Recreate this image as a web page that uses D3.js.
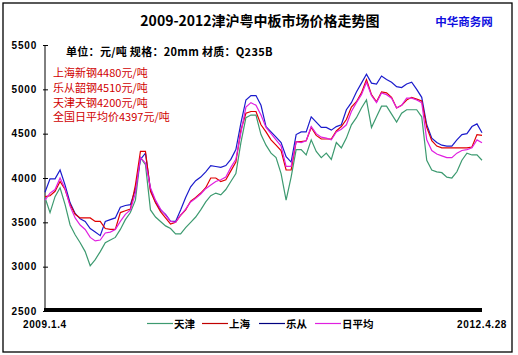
<!DOCTYPE html>
<html><head><meta charset="utf-8">
<script src="https://cdn.jsdelivr.net/npm/d3@7"></script>
<style>body{margin:0;background:#fff}svg{display:block}</style>
</head><body>
<svg id="c" width="518" height="355"></svg>
<script>
const title = "2009-2012津沪粤中板市场价格走势图";
const source = "中华商务网";
const subtitle = "单位：元/吨 规格：20mm 材质：Q235B";
const notes = ["上海新钢4480元/吨","乐从韶钢4510元/吨","天津天钢4200元/吨","全国日平均价4397元/吨"];
const yTicks = [2500,3000,3500,4000,4500,5000,5500];
const xLabels = ["2009.1.4","2012.4.28"];
const seriesNames = ["天津","上海","乐从","日平均"];
const seriesColors = ["#3d9a70","#e00000","#1a1acc","#e020e0"];
const legendColors = ["#3d9a70","#c00000","#000080","#e020e0"];

const tianjin = [3780,3610,3790,3890,3700,3470,3360,3270,3170,3010,3080,3170,3270,3300,3330,3420,3530,3610,3750,4230,4150,3640,3560,3510,3460,3430,3370,3370,3440,3500,3560,3640,3730,3800,3830,3810,3870,3960,4050,4400,4680,4710,4710,4490,4370,4280,4230,4050,3750,4010,4320,4320,4260,4430,4300,4230,4280,4210,4400,4340,4450,4600,4680,4790,4880,4570,4690,4810,4810,4720,4630,4730,4770,4770,4770,4690,4200,4090,4070,4060,4010,4000,4070,4200,4280,4260,4260,4200];
const shanghai = [3790,3800,3850,3960,3870,3700,3590,3550,3550,3550,3510,3510,3430,3420,3420,3610,3630,3650,3920,4300,4300,3850,3720,3620,3550,3480,3500,3580,3640,3740,3780,3830,3890,4000,4000,3960,3980,4080,4180,4540,4730,4750,4750,4600,4520,4430,4370,4310,4090,4090,4410,4410,4420,4570,4480,4440,4440,4440,4530,4580,4660,4800,4860,4960,5110,4940,4860,4970,4960,4910,4790,4820,4880,4910,4890,4870,4570,4420,4360,4340,4340,4340,4340,4340,4340,4350,4490,4480];
const lecong = [3840,3990,3990,4090,3920,3720,3600,3540,3510,3430,3390,3350,3510,3530,3550,3670,3690,3700,3870,4210,4280,3870,3730,3640,3590,3510,3510,3640,3780,3900,3970,4010,4070,4140,4130,4120,4140,4210,4320,4620,4880,4930,4930,4820,4580,4520,4460,4400,4240,4180,4490,4520,4520,4690,4630,4570,4570,4540,4580,4600,4770,4850,4970,5070,5170,5070,5060,5150,5110,5080,5030,5020,5060,5080,5000,4910,4600,4450,4400,4370,4360,4360,4430,4490,4500,4580,4610,4510];
const average = [3750,3830,3870,4000,3880,3680,3550,3470,3420,3330,3290,3300,3380,3390,3420,3510,3590,3640,3830,4230,4170,3890,3750,3650,3580,3510,3500,3580,3650,3730,3770,3820,3880,3920,3960,3980,4010,4120,4210,4510,4800,4850,4820,4710,4570,4500,4430,4360,4130,4130,4410,4400,4420,4580,4500,4460,4450,4430,4520,4550,4600,4750,4850,4940,5080,4930,4850,4960,4940,4900,4790,4820,4900,4900,4880,4850,4430,4310,4270,4250,4230,4230,4280,4310,4320,4340,4430,4397];

const N = tianjin.length;
const start = new Date(2009,0,4), end = new Date(2012,3,28);
const dates = d3.range(N).map(i => new Date(+start + (end - start) * i / (N - 1)));

const svg = d3.select("#c");
const x = d3.scaleTime().domain([start, end]).range([45, 482]);
const y = d3.scaleLinear().domain([2500, 5500]).range([311, 45]);

svg.append("rect").attr("x",3).attr("y",3).attr("width",509).attr("height",349)
  .attr("fill","#fff").attr("stroke","#000").attr("stroke-width",1.3);

svg.append("text").attr("x",260).attr("y",26).attr("text-anchor","middle")
  .attr("font-family","Noto Sans CJK SC").attr("font-weight","bold").attr("font-size",14).text(title);
svg.append("text").attr("x",464).attr("y",26).attr("text-anchor","middle")
  .attr("font-family","Noto Sans CJK SC").attr("font-weight","bold").attr("font-size",11.5)
  .attr("fill","#1010e0").text(source);
svg.append("text").attr("x",66).attr("y",56)
  .attr("font-family","Noto Sans CJK SC").attr("font-weight","bold").attr("font-size",11)
  .attr("letter-spacing",0.3).text(subtitle);
notes.forEach((t,i)=>{
  svg.append("text").attr("x",53).attr("y",77+i*14.8)
    .attr("font-family","Noto Sans CJK SC").attr("font-size",11).attr("fill","#d00000").text(t);
});

// y axis
const yAxis = d3.axisLeft(y).tickValues(yTicks).tickSize(0).tickFormat(d3.format("d"));
const gy = svg.append("g").attr("transform","translate(45,0)").call(yAxis);
gy.select(".domain").remove();
gy.selectAll(".tick text").attr("x",-8).attr("font-family","Liberation Sans").attr("font-weight","bold")
  .attr("font-size",10).attr("letter-spacing",0.8).attr("fill","#000");
gy.selectAll(".tick").append("line").attr("x1",-2).attr("x2",3).attr("stroke","#000");
svg.append("line").attr("x1",45).attr("x2",45).attr("y1",y(5500)).attr("y2",y(2500)).attr("stroke","#000");
svg.append("line").attr("x1",44).attr("x2",482).attr("y1",y(2500)-1).attr("y2",y(2500)-1)
  .attr("stroke","#000").attr("stroke-width",4);

// lines
const allSeries = [tianjin, lecong, shanghai, average];
const colorOf = [seriesColors[0], seriesColors[2], seriesColors[1], seriesColors[3]];
const line = d3.line().x((d,i)=>x(dates[i])).y(d=>y(d));
allSeries.forEach((s,k)=>{
  svg.append("path").datum(s).attr("d",line).attr("fill","none")
    .attr("stroke",colorOf[k]).attr("stroke-width",1.2);
});

// x labels
svg.append("text").attr("x",23).attr("y",328).attr("font-family","Liberation Sans").attr("font-weight","bold")
  .attr("font-size",10).attr("letter-spacing",0.6).text(xLabels[0]);
svg.append("text").attr("x",507).attr("y",328).attr("text-anchor","end").attr("font-family","Liberation Sans").attr("font-weight","bold")
  .attr("font-size",10).attr("letter-spacing",0.6).text(xLabels[1]);

// legend
const legX = [147, 202, 259, 315];
seriesNames.forEach((n,i)=>{
  svg.append("line").attr("x1",legX[i]).attr("x2",legX[i]+26).attr("y1",323.5).attr("y2",323.5)
    .attr("stroke",legendColors[i]).attr("stroke-width",1.2);
  svg.append("text").attr("x",legX[i]+27).attr("y",327.5).attr("font-family","Noto Sans CJK SC")
    .attr("font-weight","bold").attr("font-size",10.5).text(n);
});
</script>
</body></html>
